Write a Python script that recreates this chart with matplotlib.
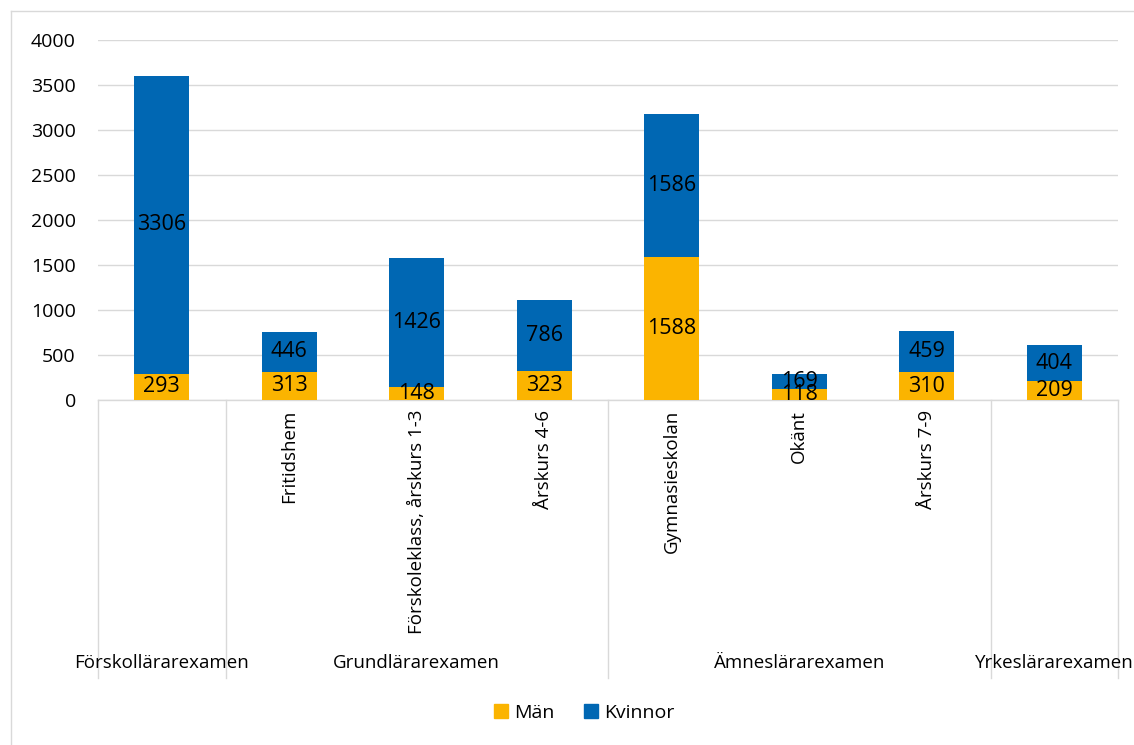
import matplotlib
matplotlib.use("Agg")
import matplotlib.pyplot as plt
import matplotlib.transforms as mtransforms
from matplotlib.patches import Patch
from matplotlib.lines import Line2D

plt.rcParams['font.family'] = ['Open Sans', 'DejaVu Sans']

groups = ["Förskollärarexamen", "Grundlärarexamen", "Ämneslärarexamen", "Yrkeslärarexamen"]
group_sizes = [1, 3, 3, 1]
subcats = ["", "Fritidshem", "Förskoleklass, årskurs 1-3", "Årskurs 4-6",
           "Gymnasieskolan", "Okänt", "Årskurs 7-9", ""]
man = [293, 313, 148, 323, 1588, 118, 310, 209]
kvinnor = [3306, 446, 1426, 786, 1586, 169, 459, 404]
yticks = [0, 500, 1000, 1500, 2000, 2500, 3000, 3500, 4000]

c_man = "#FBB400"
c_kv = "#0067B3"
grid_c = "#D9D9D9"

W, H = 1134, 745
fig = plt.figure(figsize=(W / 100, H / 100), dpi=100)
ax = fig.add_axes([98 / W, 1 - 400 / H, (1118 - 98) / W, 360 / H])

x = list(range(len(subcats)))
bw = 0.43
b1 = ax.bar(x, man, bw, color=c_man, zorder=3, label="Män")
b2 = ax.bar(x, kvinnor, bw, bottom=man, color=c_kv, zorder=3, label="Kvinnor")
ax.bar_label(b1, labels=[str(v) for v in man], label_type='center', fontsize=15.5, color='black', zorder=4)
ax.bar_label(b2, labels=[str(v) for v in kvinnor], label_type='center', fontsize=15.5, color='black', zorder=4)

ax.set_xlim(-0.5, len(subcats) - 0.5)
ax.set_ylim(0, 4000)
ax.set_yticks(yticks)
ax.set_yticklabels([str(v) for v in yticks], fontsize=14)
ax.tick_params(axis='y', length=0, pad=16)
ax.yaxis.grid(True, color=grid_c, linewidth=1, zorder=0)
ax.set_axisbelow(True)

ax.set_xticks(x)
ax.set_xticklabels(subcats, rotation=90, fontsize=13.5, va='top', ha='center')
ax.tick_params(axis='x', length=0, pad=7)

for s in ['top', 'right', 'left']:
    ax.spines[s].set_visible(False)
ax.spines['bottom'].set_color(grid_c)
ax.spines['bottom'].set_linewidth(1)

trans = mtransforms.blended_transform_factory(ax.transData, ax.transAxes)
bottom_y = -(678 - 400) / 360
label_y = -(663 - 400) / 360

# group separators and labels
start = 0
bounds = [-0.5]
for g, n in zip(groups, group_sizes):
    end = start + n
    center = (start + end - 1) / 2
    ax.text(center, label_y, g, transform=trans, ha='center', va='center', fontsize=13.5)
    bounds.append(end - 0.5)
    start = end
for b in bounds:
    ax.add_line(Line2D([b, b], [bottom_y, 0], transform=trans, color=grid_c,
                       linewidth=1, clip_on=False))

# outer border (left and top visible)
fig.add_artist(Line2D([10.5 / W, 10.5 / W], [0, 1 - 11 / H], transform=fig.transFigure,
                      color=grid_c, linewidth=1))
fig.add_artist(Line2D([10.5 / W, 1], [1 - 11 / H, 1 - 11 / H], transform=fig.transFigure,
                      color=grid_c, linewidth=1))

handles = [Patch(color=c_man, label="Män"), Patch(color=c_kv, label="Kvinnor")]
fig.legend(handles=handles, loc='center', bbox_to_anchor=(0.515, 1 - 713 / H), ncol=2,
           frameon=False, fontsize=14, handlelength=0.75, handleheight=0.75,
           handletextpad=0.3, columnspacing=1.5)

fig.savefig("out.png", dpi=100)
